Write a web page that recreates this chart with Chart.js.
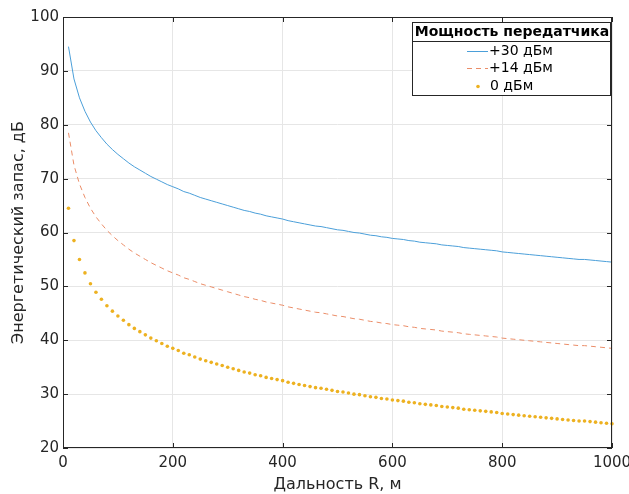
<!DOCTYPE html>
<html>
<head>
<meta charset="utf-8">
<script src="https://cdn.jsdelivr.net/npm/chart.js@4/dist/chart.umd.min.js"></script>
<style>
  html, body { margin: 0; padding: 0; background: #fff; }
  #wrap { width: 629px; height: 494px; }
</style>
</head>
<body>
<div id="wrap"><canvas id="myChartMargin"></canvas></div>
<script>
// дальность, м
var distance = [10,20,30,40,50,60,70,80,90,100,
	110,120,130,140,150,160,170,180,190,200,
	210,220,230,240,250,260,270,280,290,300,
	310,320,330,340,350,360,370,380,390,400,
	410,420,430,440,450,460,470,480,490,500,
	510,520,530,540,550,560,570,580,590,600,
	610,620,630,640,650,660,670,680,690,700,
	710,720,730,740,750,760,770,780,790,800,
	810,820,830,840,850,860,870,880,890,900,
	910,920,930,940,950,960,970,980,990,1000];

// +30 dBm
var margin30 = [94.5,88.5,85.0,82.5,80.5,78.9,77.6,76.4,75.4,74.5,
	73.7,72.9,72.2,71.6,71.0,70.4,69.9,69.4,68.9,68.5,
	68.1,67.6,67.3,66.9,66.5,66.2,65.9,65.6,65.3,65.0,
	64.7,64.4,64.1,63.9,63.6,63.4,63.1,62.9,62.7,62.5,
	62.2,62.0,61.8,61.6,61.4,61.2,61.1,60.9,60.7,60.5,
	60.4,60.2,60.0,59.9,59.7,59.5,59.4,59.2,59.1,58.9,
	58.8,58.7,58.5,58.4,58.2,58.1,58.0,57.9,57.7,57.6,
	57.5,57.4,57.2,57.1,57.0,56.9,56.8,56.7,56.6,56.4,
	56.3,56.2,56.1,56.0,55.9,55.8,55.7,55.6,55.5,55.4,
	55.3,55.2,55.1,55.0,55.0,54.9,54.8,54.7,54.6,54.5];

// +14 dBm
var margin14 = [78.5,72.5,69.0,66.5,64.5,62.9,61.6,60.4,59.4,58.5,
	57.7,56.9,56.2,55.6,55.0,54.4,53.9,53.4,52.9,52.5,
	52.1,51.6,51.3,50.9,50.5,50.2,49.9,49.6,49.3,49.0,
	48.7,48.4,48.1,47.9,47.6,47.4,47.1,46.9,46.7,46.5,
	46.2,46.0,45.8,45.6,45.4,45.2,45.1,44.9,44.7,44.5,
	44.4,44.2,44.0,43.9,43.7,43.5,43.4,43.2,43.1,42.9,
	42.8,42.7,42.5,42.4,42.2,42.1,42.0,41.9,41.7,41.6,
	41.5,41.4,41.2,41.1,41.0,40.9,40.8,40.7,40.6,40.4,
	40.3,40.2,40.1,40.0,39.9,39.8,39.7,39.6,39.5,39.4,
	39.3,39.2,39.1,39.0,39.0,38.9,38.8,38.7,38.6,38.5];

// 0 dBm
var margin0 = [64.5,58.5,55.0,52.5,50.5,48.9,47.6,46.4,45.4,44.5,
	43.7,42.9,42.2,41.6,41.0,40.4,39.9,39.4,38.9,38.5,
	38.1,37.6,37.3,36.9,36.5,36.2,35.9,35.6,35.3,35.0,
	34.7,34.4,34.1,33.9,33.6,33.4,33.1,32.9,32.7,32.5,
	32.2,32.0,31.8,31.6,31.4,31.2,31.1,30.9,30.7,30.5,
	30.4,30.2,30.0,29.9,29.7,29.5,29.4,29.2,29.1,28.9,
	28.8,28.7,28.5,28.4,28.2,28.1,28.0,27.9,27.7,27.6,
	27.5,27.4,27.2,27.1,27.0,26.9,26.8,26.7,26.6,26.4,
	26.3,26.2,26.1,26.0,25.9,25.8,25.7,25.6,25.5,25.4,
	25.3,25.2,25.1,25.0,25.0,24.9,24.8,24.7,24.6,24.5];

var seriesLabels = ['+30 дБм', '+14 дБм', '0 дБм'];
var legendTitle = 'Мощность передатчика';
var xTicks = [0, 200, 400, 600, 800, 1000];
var yTicks = [20, 30, 40, 50, 60, 70, 80, 90, 100];

function toPoints(ys) {
	return distance.map(function(d, i) { return {x: d, y: ys[i]}; });
}

var FONT = "'DejaVu Sans', sans-serif";
var AXIS_COLOR = '#262626';

// рамка осей + засечки внутрь (как в MATLAB)
var boxPlugin = {
	id: 'boxPlugin',
	afterDatasetsDraw: function(chart) {
		var ctx = chart.ctx, a = chart.chartArea;
		var xs = chart.scales.x, ys = chart.scales.y;
		ctx.save();
		ctx.strokeStyle = AXIS_COLOR;
		ctx.lineWidth = 1;
		ctx.strokeRect(a.left + 0.5, a.top + 0.5, a.right - a.left - 1, a.bottom - a.top - 1);
		ctx.beginPath();
		xTicks.forEach(function(v) {
			var px = Math.round(xs.getPixelForValue(v)) + 0.5;
			ctx.moveTo(px, a.bottom); ctx.lineTo(px, a.bottom - 5);
			ctx.moveTo(px, a.top); ctx.lineTo(px, a.top + 5);
		});
		yTicks.forEach(function(v) {
			var py = Math.round(ys.getPixelForValue(v)) + 0.5;
			ctx.moveTo(a.left, py); ctx.lineTo(a.left + 5, py);
			ctx.moveTo(a.right, py); ctx.lineTo(a.right - 5, py);
		});
		ctx.stroke();
		ctx.restore();
	}
};

// легенда с заголовком в рамке
var legendBoxPlugin = {
	id: 'legendBoxPlugin',
	afterDraw: function(chart) {
		var ctx = chart.ctx;
		var left = 412, top = 22, right = 610, bottom = 95, sep = 41;
		ctx.save();
		ctx.fillStyle = '#fff';
		ctx.fillRect(left, top, right - left, bottom - top);
		ctx.strokeStyle = AXIS_COLOR;
		ctx.lineWidth = 1;
		ctx.strokeRect(left + 0.5, top + 0.5, right - left, bottom - top);
		ctx.beginPath();
		ctx.moveTo(left, sep + 0.5); ctx.lineTo(right, sep + 0.5);
		ctx.stroke();
		ctx.fillStyle = '#000';
		ctx.font = 'bold 14px ' + FONT;
		ctx.textAlign = 'center';
		ctx.textBaseline = 'middle';
		ctx.fillText(legendTitle, (left + right) / 2 + 1, 32);
		ctx.font = '14px ' + FONT;
		ctx.textAlign = 'left';
		var rows = [51, 68, 86];
		chart.data.datasets.forEach(function(ds, i) {
			var y = rows[i];
			ctx.fillStyle = '#000';
			if (ds.showLine === false) {
				ctx.fillStyle = ds.pointBackgroundColor;
				ctx.beginPath();
				ctx.arc(478, y + 0.5, 1.8, 0, Math.PI * 2);
				ctx.fill();
				ctx.fillStyle = '#000';
				ctx.fillText(ds.label, 490, y);
			} else {
				ctx.strokeStyle = ds.borderColor;
				ctx.lineWidth = ds.borderWidth;
				ctx.setLineDash(ds.borderDash || []);
				ctx.beginPath();
				ctx.moveTo(467, y + 0.5); ctx.lineTo(488, y + 0.5);
				ctx.stroke();
				ctx.setLineDash([]);
				ctx.fillText(ds.label, 489, y);
			}
		});
		ctx.restore();
	}
};

var ctxMargin = document.getElementById('myChartMargin').getContext('2d');
var myChart = new Chart(ctxMargin, {
	type: 'line',
	data: {
		datasets: [
			{
				label: seriesLabels[0],
				data: toPoints(margin30),
				borderColor: '#4b9fd9',
				borderWidth: 1,
				pointRadius: 0,
				fill: false,
				tension: 0
			},
			{
				label: seriesLabels[1],
				data: toPoints(margin14),
				borderColor: '#eb8d68',
				borderWidth: 1,
				borderDash: [5, 4],
				pointRadius: 0,
				fill: false,
				tension: 0
			},
			{
				label: seriesLabels[2],
				data: toPoints(margin0),
				showLine: false,
				pointRadius: 1.8,
				pointBorderWidth: 0,
				pointBackgroundColor: '#edb120',
				pointBorderColor: '#edb120',
				clip: false
			}
		]
	},
	options: {
		responsive: true,
		maintainAspectRatio: false,
		animation: false,
		layout: {
			padding: { top: 17, right: 17, left: 0, bottom: 0 }
		},
		scales: {
			x: {
				type: 'linear',
				min: 0,
				max: 1000,
				afterBuildTicks: function(s) { s.ticks = xTicks.map(function(v) { return {value: v}; }); },
				afterFit: function(s) { s.height = 46; s.paddingLeft = 0; s.paddingRight = 0; },
				ticks: {
					color: AXIS_COLOR,
					font: { family: FONT, size: 15 },
					padding: 6,
					maxRotation: 0,
					autoSkip: false,
					callback: function(v) { return String(v); }
				},
				grid: { color: '#e6e6e6', drawTicks: false },
				border: { display: false },
				title: {
					display: true,
					text: 'Дальность R, м',
					color: AXIS_COLOR,
					font: { family: FONT, size: 16 },
					padding: { top: 0, bottom: 0 }
				}
			},
			y: {
				min: 20,
				max: 100,
				afterBuildTicks: function(s) { s.ticks = yTicks.map(function(v) { return {value: v}; }); },
				afterFit: function(s) { s.width = 63; s.paddingTop = 0; s.paddingBottom = 0; },
				ticks: {
					color: AXIS_COLOR,
					font: { family: FONT, size: 15 },
					padding: 4,
					autoSkip: false
				},
				grid: { color: '#e6e6e6', drawTicks: false },
				border: { display: false },
				title: {
					display: true,
					text: 'Энергетический запас, дБ',
					color: AXIS_COLOR,
					font: { family: FONT, size: 16 },
					padding: { top: 9, bottom: 0 }
				}
			}
		},
		plugins: {
			legend: { display: false },
			tooltip: { enabled: false }
		}
	},
	plugins: [boxPlugin, legendBoxPlugin]
});
</script>
</body>
</html>
